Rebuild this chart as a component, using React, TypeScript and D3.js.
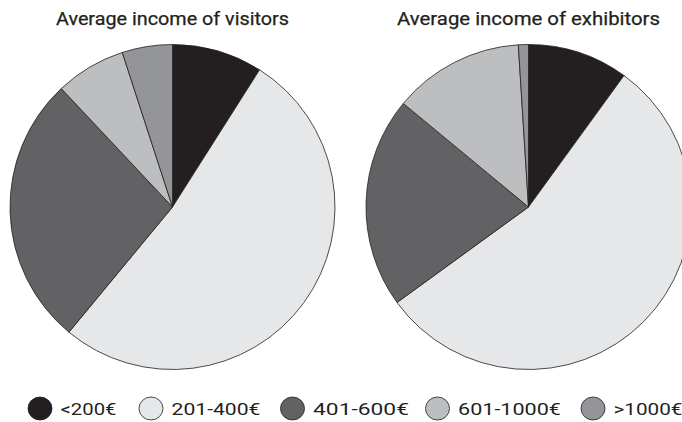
import React from "react";
import * as d3 from "d3";

const categories = ["<200€", "201-400€", "401-600€", "601-1000€", ">1000€"];
const visitors = [9, 52, 27, 7, 5];
const exhibitors = [10, 55, 21, 13, 1];
const titles = ["Average income of visitors", "Average income of exhibitors"];

const colors = ["#231f20", "#e6e7e8", "#626264", "#bcbec0", "#939598"];
const STROKE = "#231f20";
const FONT = "Roboto, 'DejaVu Sans', sans-serif";

const W = 682;
const H = 422;
const R = 162.5;
const centers = [
  { x: 172.5, y: 207 },
  { x: 528.5, y: 207 },
];
const titleWidths = [233, 263];
const legendX = [40, 151, 292.5, 437.5, 593];
const legendWidths = [56, 89, 96, 103, 69];

function Pie({ values, cx, cy }: { values: number[]; cx: number; cy: number }) {
  const pie = d3.pie<number>().sort(null).value((d) => d);
  const arc = d3.arc<d3.PieArcDatum<number>>().innerRadius(0).outerRadius(R);
  const arcs = pie(values);
  return (
    <g transform={`translate(${cx},${cy})`}>
      {arcs.map((a, i) => (
        <path
          key={i}
          d={arc(a) || ""}
          fill={colors[i]}
          stroke={STROKE}
          strokeWidth={0.8}
          strokeLinejoin="round"
        />
      ))}
    </g>
  );
}

export default function App() {
  const data = [visitors, exhibitors];
  return (
    <svg
      width={W}
      height={H}
      style={{ position: "absolute", left: 0, top: 0, background: "#fff" }}
    >
      <rect width={W} height={H} fill="#fff" />
      {data.map((vals, k) => (
        <g key={k}>
          <Pie values={vals} cx={centers[k].x} cy={centers[k].y} />
          <text
            x={centers[k].x}
            y={24.5}
            textAnchor="middle"
            fontFamily={FONT}
            fontSize={17.5}
            fill="#231f20"
            stroke="#231f20"
            strokeWidth={0.25}
            textLength={titleWidths[k]}
            lengthAdjust="spacingAndGlyphs"
          >
            {titles[k]}
          </text>
        </g>
      ))}
      {categories.map((c, i) => (
        <g key={c}>
          <ellipse
            cx={legendX[i]}
            cy={408.5}
            rx={12}
            ry={11.5}
            fill={colors[i]}
            stroke={STROKE}
            strokeWidth={0.8}
          />
          <text
            x={legendX[i] + 20.5}
            y={415}
            fontFamily={FONT}
            fontSize={17}
            fill="#231f20"
            textLength={legendWidths[i]}
            lengthAdjust="spacingAndGlyphs"
          >
            {c}
          </text>
        </g>
      ))}
    </svg>
  );
}
